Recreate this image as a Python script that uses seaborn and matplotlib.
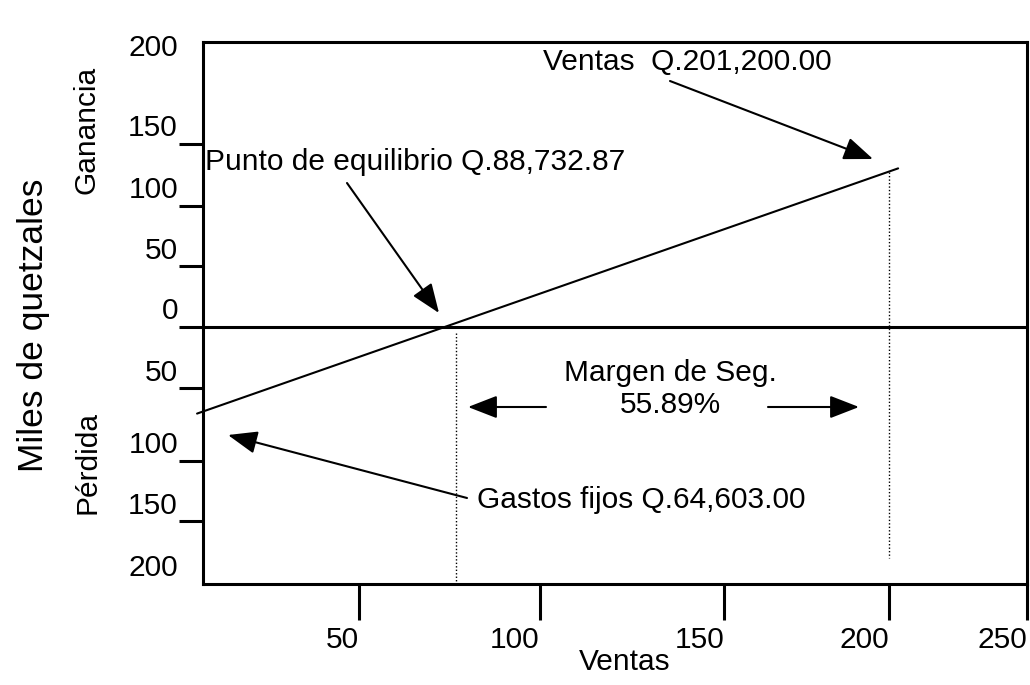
import matplotlib
matplotlib.use('Agg')
import matplotlib.pyplot as plt
import seaborn as sns
import pandas as pd

# valores del grafico (miles de quetzales)
ventas_linea = [-1.8, 210.9]
resultado_linea = [-71.0, 130.0]
punto_eq_x = 76.8
ventas_x = 208.1
xtick_pos = [47.3, 102.2, 158.1, 208.1, 250.0]
xtick_labels = ['50', '100', '150', '200', '250']
ytick_pos = [150, 99, 50, 0, -50, -110, -159]
ylabel_pos = [231, 165.6, 114.8, 64.8, 15.6, -35.2, -94.3, -144.3, -195.1]
ylabel_txt = ['200', '150', '100', '50', '0', '50', '100', '150', '200']

txt_ventas = 'Ventas  Q.201,200.00'
txt_equilibrio = 'Punto de equilibrio Q.88,732.87'
txt_margen = 'Margen de Seg.\n55.89%'
txt_gastos = 'Gastos fijos Q.64,603.00'

sns.set_style('white')
plt.rcParams['font.family'] = ['Liberation Sans', 'DejaVu Sans']
plt.rcParams['text.color'] = 'black'
plt.rcParams['xtick.color'] = 'black'
plt.rcParams['ytick.color'] = 'black'

FS = 21.5
W, H = 1030, 685
fig = plt.figure(figsize=(W / 100, H / 100), dpi=100)
ax = fig.add_axes([203 / W, 1 - 584 / H, (1027 - 203) / W, (584 - 42) / H])


def px(x, y):
    # posicion en pixeles de la imagen -> fraccion de figura
    return (x / W, 1 - y / H)


df = pd.DataFrame({'ventas': ventas_linea, 'resultado': resultado_linea})
sns.lineplot(data=df, x='ventas', y='resultado', ax=ax, color='black', lw=1.5)
for l in ax.lines:
    l.set_clip_on(False)

ax.axhline(0, color='black', lw=2.2)
ax.plot([punto_eq_x, punto_eq_x], [-5, -210.7], color='black', lw=1, ls=(0, (1, 1.5)))
ax.plot([ventas_x, ventas_x], [127, -189], color='black', lw=1, ls=(0, (1, 1.5)))

ax.set_xlim(0, 250)
ax.set_ylim(-210.7, 233.6)
ax.set_xlabel('')
ax.set_ylabel('')

for s in ax.spines.values():
    s.set_linewidth(2.2)
    s.set_color('black')

ax.set_xticks(xtick_pos)
ax.set_xticklabels(xtick_labels, ha='right', fontsize=FS)
ax.tick_params(axis='x', direction='out', length=26, width=2.2, pad=4, bottom=True)

ax.set_yticks(ytick_pos)
ax.set_yticklabels([''] * len(ytick_pos))
ax.tick_params(axis='y', which='major', direction='out', length=17, width=2.2, left=True)
ax.set_yticks(ylabel_pos, minor=True)
ax.set_yticklabels(ylabel_txt, minor=True, fontsize=FS)
ax.tick_params(axis='y', which='minor', length=0, pad=18, left=True)

fig.text(*px(625, 662), 'Ventas', fontsize=FS, ha='center', va='center')
fig.text(*px(34, 325), 'Miles de quetzales', fontsize=25.5, rotation=90, ha='center', va='center')
fig.text(*px(87, 130), 'Ganancia', fontsize=FS, rotation=90, ha='center', va='center')
fig.text(*px(87, 462), 'Pérdida', fontsize=FS, rotation=90, ha='center', va='center')

arrow = dict(arrowstyle='-|>,head_length=0.9,head_width=0.35', color='black', lw=1.5,
             mutation_scale=20, shrinkA=0, shrinkB=0)

fig.text(*px(543, 62), txt_ventas, fontsize=FS, ha='left', va='center')
ax.annotate('', xy=px(873, 159), xytext=px(670, 81), xycoords='figure fraction',
            textcoords='figure fraction', arrowprops=arrow)

fig.text(*px(205, 162), txt_equilibrio, fontsize=FS, ha='left', va='center')
ax.annotate('', xy=px(439, 313), xytext=px(347, 183), xycoords='figure fraction',
            textcoords='figure fraction', arrowprops=arrow)

fig.text(*px(670, 389), txt_margen, fontsize=FS, ha='center', va='center', linespacing=1.15)
ax.annotate('', xy=px(468, 407), xytext=px(546, 407), xycoords='figure fraction',
            textcoords='figure fraction', arrowprops=arrow)
ax.annotate('', xy=px(859, 407), xytext=px(768, 407), xycoords='figure fraction',
            textcoords='figure fraction', arrowprops=arrow)

fig.text(*px(477, 500), txt_gastos, fontsize=FS, ha='left', va='center')
ax.annotate('', xy=px(228, 435), xytext=px(467, 498), xycoords='figure fraction',
            textcoords='figure fraction', arrowprops=arrow)

fig.savefig('out.png', dpi=100)
